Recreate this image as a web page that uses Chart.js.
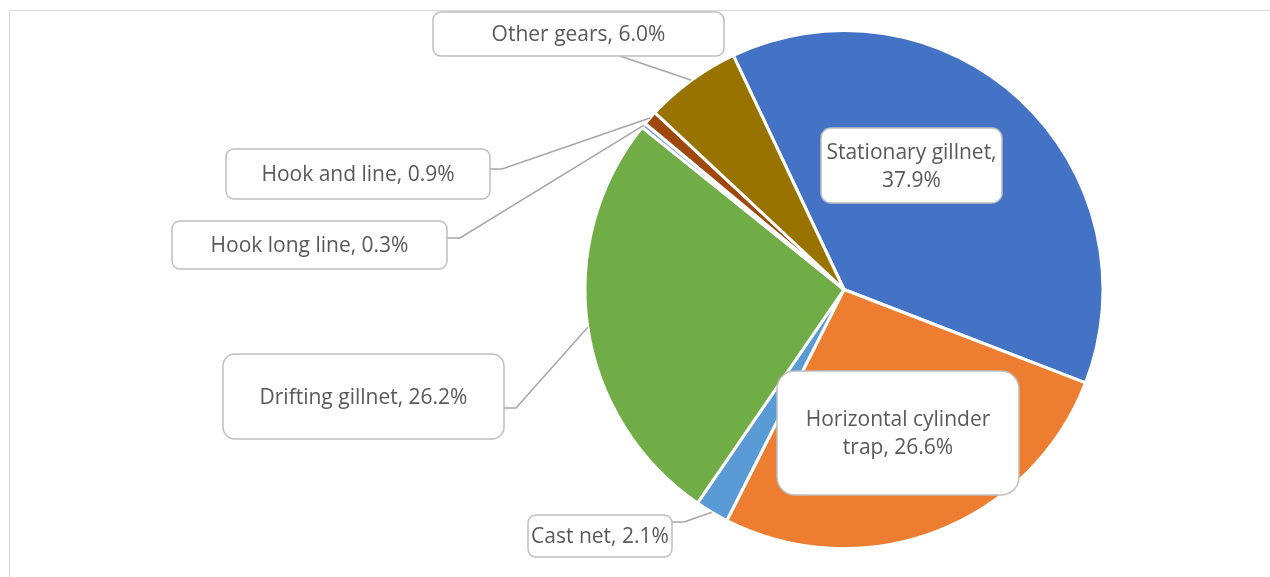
<!DOCTYPE html>
<html>
<head>
<meta charset="utf-8">
<script src="https://cdn.jsdelivr.net/npm/chart.js@4/dist/chart.umd.min.js"></script>
<style>
	body { margin: 0; background: #fff; }
	#wrap { position: relative; width: 1270px; height: 577px; }
	#frame { position: absolute; left: 9px; top: 10px; right: 0; bottom: 0; border-top: 1px solid #d9d9d9; border-left: 1px solid #d9d9d9; }
	canvas { position: absolute; left: 0; top: 0; }
</style>
</head>
<body>
<div id="wrap">
	<div id="frame"></div>
	<canvas id="gearChart" width="1270" height="577"></canvas>
</div>
<script>
const gearNames = ['Stationary gillnet', 'Horizontal cylinder trap', 'Cast net', 'Drifting gillnet', 'Hook long line', 'Hook and line', 'Other gears'];
const gearShares = [37.9, 26.6, 2.1, 26.2, 0.3, 0.9, 6.0];
const gearColors = ['#4472c4', '#ed7d31', '#5b9bd5', '#70ad47', '#7f9fd5', '#9e480e', '#997300'];

// callout boxes: [x, y, w, h], text lines, leader start (none = no leader), elbow x
const callouts = [
	{ box: [821, 128, 181, 75], lines: ['Stationary gillnet,', '37.9%'], r: 10 },
	{ box: [777, 371, 242, 124], lines: ['Horizontal cylinder', 'trap, 26.6%'], r: 18 },
	{ box: [528, 515, 144, 42], lines: ['Cast net, 2.1%'], from: [672, 522], elbow: 684, r: 8 },
	{ box: [223, 354, 281, 85], lines: ['Drifting gillnet, 26.2%'], from: [504, 408], elbow: 516, r: 12 },
	{ box: [172, 221, 275, 48], lines: ['Hook long line, 0.3%'], from: [447, 238], elbow: 460, r: 8 },
	{ box: [226, 149, 264, 50], lines: ['Hook and line, 0.9%'], from: [490, 169], elbow: 502, r: 8 },
	{ box: [433, 12, 291, 44], lines: ['Other gears, 6.0%'], from: [620, 56], r: 8 }
];

const calloutPlugin = {
	id: 'callouts',
	afterDatasetsDraw(chart) {
		const ctx = chart.ctx;
		const arcs = chart.getDatasetMeta(0).data;
		ctx.save();
		callouts.forEach((c, i) => {
			if (!c.from) return;
			const a = arcs[i];
			const mid = (a.startAngle + a.endAngle) / 2;
			const ex = a.x + Math.cos(mid) * a.outerRadius;
			const ey = a.y + Math.sin(mid) * a.outerRadius;
			ctx.beginPath();
			ctx.moveTo(c.from[0], c.from[1]);
			if (c.elbow) ctx.lineTo(c.elbow, c.from[1]);
			ctx.lineTo(ex, ey);
			ctx.strokeStyle = '#a6a6a6';
			ctx.lineWidth = 1.5;
			ctx.stroke();
		});
		callouts.forEach(c => {
			const [x, y, w, h] = c.box;
			ctx.beginPath();
			ctx.roundRect(x, y, w, h, c.r);
			ctx.fillStyle = '#ffffff';
			ctx.fill();
			ctx.strokeStyle = '#bfbfbf';
			ctx.lineWidth = 1.5;
			ctx.stroke();
			ctx.fillStyle = '#595959';
			ctx.font = '21px "Open Sans"';
			ctx.textAlign = 'center';
			ctx.textBaseline = 'middle';
			const lh = 28;
			const top = y + h / 2 + 1.5 - (c.lines.length - 1) * lh / 2;
			c.lines.forEach((t, k) => ctx.fillText(t, x + w / 2, top + k * lh));
		});
		ctx.restore();
	}
};

new Chart(document.getElementById('gearChart'), {
	type: 'pie',
	data: {
		labels: gearNames,
		datasets: [{
			data: gearShares,
			backgroundColor: gearColors,
			borderColor: '#ffffff',
			borderWidth: 3
		}]
	},
	options: {
		responsive: false,
		animation: false,
		rotation: -25.3,
		layout: { padding: { left: 583, right: 165, top: 29, bottom: 27 } },
		plugins: {
			legend: { display: false },
			tooltip: { enabled: false }
		}
	},
	plugins: [calloutPlugin]
});
</script>
</body>
</html>
